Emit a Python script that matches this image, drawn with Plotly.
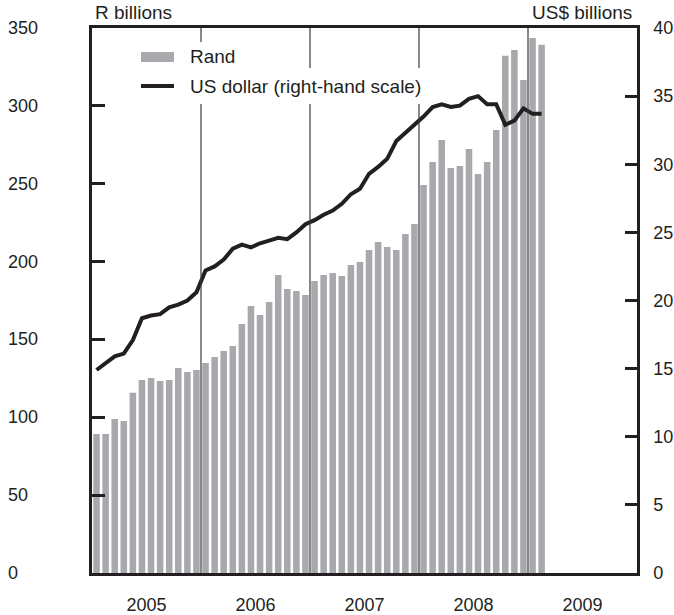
import plotly.graph_objects as go

# Monthly reserves, January 2005 to February 2009
years = ["2005", "2006", "2007", "2008", "2009"]
months = [f"{y}-{m:02d}" for y in range(2005, 2010) for m in range(1, 13)][:50]

rand_bn = [89.3, 89.3, 98.9, 97.6, 115.8, 124.0, 125.2, 123.3, 124.0, 131.7, 129.1, 130.4,
           134.9, 138.7, 142.6, 145.8, 159.9, 171.5, 165.7, 174.0, 191.4, 182.4, 181.1, 178.5,
           187.5, 191.4, 192.7, 190.7, 197.8, 199.7, 207.4, 212.6, 209.4, 207.4, 217.7, 224.1,
           249.2, 264.0, 278.1, 260.1, 261.4, 272.3, 256.3, 264.0, 284.5, 332.2, 335.9, 316.6,
           343.6, 339.3]

usd_bn = [14.9, 15.4, 15.9, 16.1, 17.1, 18.7, 18.9, 19.0, 19.5, 19.7, 20.0, 20.6,
          22.2, 22.5, 23.0, 23.8, 24.1, 23.9, 24.2, 24.4, 24.6, 24.5, 25.0, 25.6,
          25.9, 26.3, 26.6, 27.1, 27.8, 28.2, 29.3, 29.8, 30.4, 31.7, 32.3, 32.9,
          33.5, 34.2, 34.4, 34.2, 34.3, 34.8, 35.0, 34.4, 34.4, 32.9, 33.2, 34.1,
          33.7, 33.7]

left_ticks = [0, 50, 100, 150, 200, 250, 300, 350]
right_ticks = [0, 5, 10, 15, 20, 25, 30, 35, 40]

BAR = "#a7a9ac"
INK = "#231f20"
FONT = "Liberation Sans, Arial, sans-serif"
TXT = 19   # legend and unit labels
TCK = 18   # tick labels

# page geometry (pixels)
W, H = 674, 615
ML, MR, MT, MB = 92, 37, 28, 42
PW, PH = W - ML - MR, H - MT - MB


def px(xp):
    return (xp - ML) / PW


def py(yp):
    return (H - MB - yp) / PH


x_idx = list(range(len(months)))

fig = go.Figure()
fig.add_trace(go.Bar(x=x_idx, y=rand_bn, marker=dict(color=BAR, line=dict(width=0)),
                     name="Rand", hovertext=months))
fig.add_trace(go.Scatter(x=x_idx, y=usd_bn, mode="lines", yaxis="y2",
                         line=dict(color=INK, width=4), name="US dollar (right-hand scale)",
                         hovertext=months))

shapes = []
# year separators
for k in range(1, len(years)):
    b = 12 * k - 0.5
    shapes.append(dict(type="line", xref="x", yref="paper", x0=b, x1=b, y0=0, y1=1,
                       line=dict(color="#3a3a3c", width=1.2), layer="above"))
# white backing behind legend rows
shapes.append(dict(type="rect", xref="paper", yref="paper", x0=px(135), x1=px(240),
                   y0=py(68), y1=py(42), fillcolor="white", line=dict(width=0), layer="above"))
shapes.append(dict(type="rect", xref="paper", yref="paper", x0=px(135), x1=px(428),
                   y0=py(104), y1=py(68), fillcolor="white", line=dict(width=0), layer="above"))
# legend swatches
shapes.append(dict(type="rect", xref="paper", yref="paper", x0=px(141), x1=px(174),
                   y0=py(62), y1=py(52), fillcolor=BAR, line=dict(width=0), layer="above"))
shapes.append(dict(type="line", xref="paper", yref="paper", x0=px(141), x1=px(174),
                   y0=py(86), y1=py(86), line=dict(color=INK, width=4), layer="above"))

txt_font = dict(size=TXT, color=INK, family=FONT)
annotations = [
    dict(text="Rand", xref="paper", yref="paper", x=px(188), y=py(57), xanchor="left",
         yanchor="middle", showarrow=False, font=txt_font),
    dict(text="US dollar (right-hand scale)", xref="paper", yref="paper", x=px(188), y=py(86),
         xanchor="left", yanchor="middle", showarrow=False, font=txt_font),
    dict(text="R billions", xref="paper", yref="paper", x=px(93), y=py(13), xanchor="left",
         yanchor="middle", showarrow=False, font=txt_font),
    dict(text="US$ billions", xref="paper", yref="paper", x=px(634), y=py(13), xanchor="right",
         yanchor="middle", showarrow=False, font=txt_font),
]
# left-hand scale labels, flush left
for v in left_ticks:
    annotations.append(dict(text=str(v), xref="paper", yref="y", x=px(6), y=v,
                            xanchor="left", yanchor="middle", showarrow=False,
                            font=dict(size=TCK, color=INK, family=FONT)))

fig.update_layout(
    width=W, height=H,
    margin=dict(l=ML, r=MR, t=MT, b=MB, pad=0, autoexpand=False),
    paper_bgcolor="white", plot_bgcolor="white",
    showlegend=False, bargap=0.28,
    font=dict(family=FONT, size=TCK, color=INK),
    xaxis=dict(range=[-0.5, 59.5], showgrid=False, zeroline=False, automargin=False,
               showline=True, linecolor=INK, linewidth=2.5, mirror=True,
               tickmode="array", tickvals=[12 * i + 5.5 for i in range(len(years))],
               ticktext=years, ticks="", ticklabelstandoff=14,
               tickfont=dict(size=TCK, color=INK, family=FONT)),
    yaxis=dict(range=[0, 350], showgrid=False, zeroline=False, automargin=False,
               showline=True, linecolor=INK, linewidth=2.5,
               tickmode="array", tickvals=left_ticks, ticks="inside", ticklen=13,
               tickwidth=2.5, tickcolor=INK, showticklabels=False),
    yaxis2=dict(range=[0, 40], overlaying="y", side="right", showgrid=False, zeroline=False,
                automargin=False, showline=True, linecolor=INK, linewidth=2.5,
                tickmode="array", tickvals=right_ticks, ticks="inside", ticklen=12,
                tickwidth=2.5, tickcolor=INK, ticklabelstandoff=10,
                tickfont=dict(size=TCK, color=INK, family=FONT)),
    shapes=shapes,
    annotations=annotations,
)

fig.write_html("out.html")
